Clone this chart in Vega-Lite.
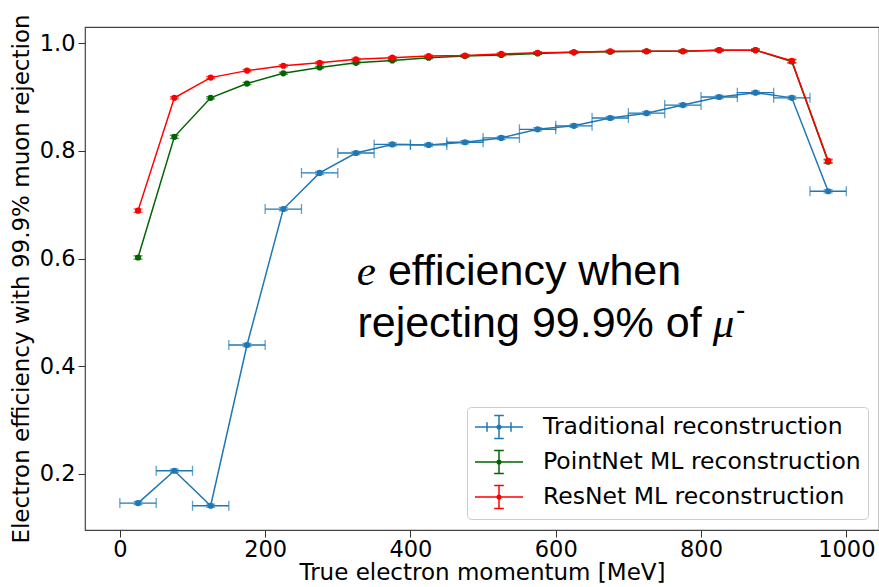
{
  "$schema": "https://vega.github.io/schema/vega-lite/v6.json",
  "autosize": "none",
  "width": 794,
  "height": 503,
  "padding": {"left": 85, "top": 27, "right": 0, "bottom": 57},
  "background": "white",
  "config": {
    "font": "DejaVu Sans",
    "view": {"stroke": "#444444", "strokeWidth": 1.2},
    "axis": {
      "domain": false,
      "grid": false,
      "labelFont": "DejaVu Sans",
      "labelFontSize": 22.5,
      "labelColor": "#000000",
      "tickColor": "#333333",
      "tickSize": 7,
      "tickWidth": 1,
      "labelPadding": 3,
      "titleFont": "DejaVu Sans",
      "titleFontSize": 23,
      "titleFontWeight": "normal",
      "titleColor": "#000000"
    },
    "legend": {
      "title": null,
      "orient": "bottom-right",
      "offset": 11,
      "padding": 7,
      "strokeColor": "#cccccc",
      "fillColor": "rgba(255,255,255,0.85)",
      "cornerRadius": 4,
      "labelFont": "DejaVu Sans",
      "labelFontSize": 23.5,
      "labelColor": "#000000",
      "labelLimit": 500,
      "symbolSize": 576,
      "symbolStrokeWidth": 1.5,
      "symbolOpacity": 1,
      "labelOffset": 43,
      "rowPadding": 5
    }
  },
  "resolve": {"scale": {"color": "independent", "shape": "independent"}, "legend": {"color": "independent", "shape": "independent"}},
  "datasets": {
    "pts": [
      {"series": "Traditional reconstruction", "x": 25, "y": 0.146, "xlo": 0, "xhi": 50, "ylo": 0.143, "yhi": 0.149},
      {"series": "Traditional reconstruction", "x": 75, "y": 0.206, "xlo": 50, "xhi": 100, "ylo": 0.203, "yhi": 0.209},
      {"series": "Traditional reconstruction", "x": 125, "y": 0.141, "xlo": 100, "xhi": 150, "ylo": 0.138, "yhi": 0.144},
      {"series": "Traditional reconstruction", "x": 175, "y": 0.4395, "xlo": 150, "xhi": 200, "ylo": 0.4365, "yhi": 0.4425},
      {"series": "Traditional reconstruction", "x": 225, "y": 0.692, "xlo": 200, "xhi": 250, "ylo": 0.689, "yhi": 0.695},
      {"series": "Traditional reconstruction", "x": 275, "y": 0.759, "xlo": 250, "xhi": 300, "ylo": 0.756, "yhi": 0.762},
      {"series": "Traditional reconstruction", "x": 325, "y": 0.796, "xlo": 300, "xhi": 350, "ylo": 0.793, "yhi": 0.799},
      {"series": "Traditional reconstruction", "x": 375, "y": 0.812, "xlo": 350, "xhi": 400, "ylo": 0.809, "yhi": 0.815},
      {"series": "Traditional reconstruction", "x": 425, "y": 0.811, "xlo": 400, "xhi": 450, "ylo": 0.808, "yhi": 0.814},
      {"series": "Traditional reconstruction", "x": 475, "y": 0.816, "xlo": 450, "xhi": 500, "ylo": 0.813, "yhi": 0.819},
      {"series": "Traditional reconstruction", "x": 525, "y": 0.824, "xlo": 500, "xhi": 550, "ylo": 0.821, "yhi": 0.827},
      {"series": "Traditional reconstruction", "x": 575, "y": 0.840, "xlo": 550, "xhi": 600, "ylo": 0.837, "yhi": 0.843},
      {"series": "Traditional reconstruction", "x": 625, "y": 0.8465, "xlo": 600, "xhi": 650, "ylo": 0.8435, "yhi": 0.8495},
      {"series": "Traditional reconstruction", "x": 675, "y": 0.861, "xlo": 650, "xhi": 700, "ylo": 0.858, "yhi": 0.864},
      {"series": "Traditional reconstruction", "x": 725, "y": 0.870, "xlo": 700, "xhi": 750, "ylo": 0.867, "yhi": 0.873},
      {"series": "Traditional reconstruction", "x": 775, "y": 0.885, "xlo": 750, "xhi": 800, "ylo": 0.882, "yhi": 0.888},
      {"series": "Traditional reconstruction", "x": 825, "y": 0.900, "xlo": 800, "xhi": 850, "ylo": 0.897, "yhi": 0.903},
      {"series": "Traditional reconstruction", "x": 875, "y": 0.908, "xlo": 850, "xhi": 900, "ylo": 0.905, "yhi": 0.911},
      {"series": "Traditional reconstruction", "x": 925, "y": 0.8985, "xlo": 900, "xhi": 950, "ylo": 0.8955, "yhi": 0.9015},
      {"series": "Traditional reconstruction", "x": 975, "y": 0.725, "xlo": 950, "xhi": 1000, "ylo": 0.722, "yhi": 0.728},
      {"series": "PointNet ML reconstruction", "x": 25, "y": 0.602, "ylo": 0.599, "yhi": 0.605},
      {"series": "PointNet ML reconstruction", "x": 75, "y": 0.826, "ylo": 0.823, "yhi": 0.829},
      {"series": "PointNet ML reconstruction", "x": 125, "y": 0.8985, "ylo": 0.8965, "yhi": 0.9005},
      {"series": "PointNet ML reconstruction", "x": 175, "y": 0.925, "ylo": 0.923, "yhi": 0.927},
      {"series": "PointNet ML reconstruction", "x": 225, "y": 0.944, "ylo": 0.942, "yhi": 0.946},
      {"series": "PointNet ML reconstruction", "x": 275, "y": 0.955, "ylo": 0.953, "yhi": 0.957},
      {"series": "PointNet ML reconstruction", "x": 325, "y": 0.9635, "ylo": 0.9615, "yhi": 0.9655},
      {"series": "PointNet ML reconstruction", "x": 375, "y": 0.968, "ylo": 0.966, "yhi": 0.970},
      {"series": "PointNet ML reconstruction", "x": 425, "y": 0.973, "ylo": 0.971, "yhi": 0.975},
      {"series": "PointNet ML reconstruction", "x": 475, "y": 0.976, "ylo": 0.974, "yhi": 0.978},
      {"series": "PointNet ML reconstruction", "x": 525, "y": 0.978, "ylo": 0.976, "yhi": 0.980},
      {"series": "PointNet ML reconstruction", "x": 575, "y": 0.981, "ylo": 0.979, "yhi": 0.983},
      {"series": "PointNet ML reconstruction", "x": 625, "y": 0.983, "ylo": 0.981, "yhi": 0.985},
      {"series": "PointNet ML reconstruction", "x": 675, "y": 0.984, "ylo": 0.982, "yhi": 0.986},
      {"series": "PointNet ML reconstruction", "x": 725, "y": 0.985, "ylo": 0.983, "yhi": 0.987},
      {"series": "PointNet ML reconstruction", "x": 775, "y": 0.985, "ylo": 0.983, "yhi": 0.987},
      {"series": "PointNet ML reconstruction", "x": 825, "y": 0.987, "ylo": 0.985, "yhi": 0.989},
      {"series": "PointNet ML reconstruction", "x": 875, "y": 0.987, "ylo": 0.985, "yhi": 0.989},
      {"series": "PointNet ML reconstruction", "x": 925, "y": 0.966, "ylo": 0.963, "yhi": 0.969},
      {"series": "PointNet ML reconstruction", "x": 975, "y": 0.780, "ylo": 0.777, "yhi": 0.783},
      {"series": "ResNet ML reconstruction", "x": 25, "y": 0.689, "ylo": 0.686, "yhi": 0.692},
      {"series": "ResNet ML reconstruction", "x": 75, "y": 0.8985, "ylo": 0.8965, "yhi": 0.9005},
      {"series": "ResNet ML reconstruction", "x": 125, "y": 0.936, "ylo": 0.934, "yhi": 0.938},
      {"series": "ResNet ML reconstruction", "x": 175, "y": 0.949, "ylo": 0.947, "yhi": 0.951},
      {"series": "ResNet ML reconstruction", "x": 225, "y": 0.958, "ylo": 0.956, "yhi": 0.960},
      {"series": "ResNet ML reconstruction", "x": 275, "y": 0.9635, "ylo": 0.9615, "yhi": 0.9655},
      {"series": "ResNet ML reconstruction", "x": 325, "y": 0.970, "ylo": 0.968, "yhi": 0.972},
      {"series": "ResNet ML reconstruction", "x": 375, "y": 0.973, "ylo": 0.971, "yhi": 0.975},
      {"series": "ResNet ML reconstruction", "x": 425, "y": 0.976, "ylo": 0.974, "yhi": 0.978},
      {"series": "ResNet ML reconstruction", "x": 475, "y": 0.977, "ylo": 0.975, "yhi": 0.979},
      {"series": "ResNet ML reconstruction", "x": 525, "y": 0.980, "ylo": 0.978, "yhi": 0.982},
      {"series": "ResNet ML reconstruction", "x": 575, "y": 0.982, "ylo": 0.980, "yhi": 0.984},
      {"series": "ResNet ML reconstruction", "x": 625, "y": 0.983, "ylo": 0.981, "yhi": 0.985},
      {"series": "ResNet ML reconstruction", "x": 675, "y": 0.985, "ylo": 0.983, "yhi": 0.987},
      {"series": "ResNet ML reconstruction", "x": 725, "y": 0.985, "ylo": 0.983, "yhi": 0.987},
      {"series": "ResNet ML reconstruction", "x": 775, "y": 0.985, "ylo": 0.983, "yhi": 0.987},
      {"series": "ResNet ML reconstruction", "x": 825, "y": 0.987, "ylo": 0.985, "yhi": 0.989},
      {"series": "ResNet ML reconstruction", "x": 875, "y": 0.987, "ylo": 0.985, "yhi": 0.989},
      {"series": "ResNet ML reconstruction", "x": 925, "y": 0.967, "ylo": 0.964, "yhi": 0.970},
      {"series": "ResNet ML reconstruction", "x": 975, "y": 0.7815, "ylo": 0.7785, "yhi": 0.7845}
    ],
    "notes": [
      {"t": "e", "x": 326, "y": 0.551, "kind": "math", "size": 43},
      {"t": "efficiency when", "x": 369, "y": 0.551, "kind": "sans", "size": 43},
      {"t": "rejecting 99.9% of", "x": 327, "y": 0.455, "kind": "sans", "size": 43},
      {"t": "μ", "x": 816, "y": 0.455, "kind": "math", "size": 43},
      {"t": "-", "x": 848, "y": 0.488, "kind": "sans", "size": 28}
    ]
  },
  "data": {"name": "pts"},
  "encoding": {
    "x": {
      "field": "x", "type": "quantitative",
      "scale": {"domain": [-48, 1045], "nice": false, "zero": false},
      "axis": {"values": [0, 200, 400, 600, 800, 1000], "format": "d", "title": "True electron momentum [MeV]", "labelPadding": 1, "titlePadding": 1}
    },
    "y": {
      "field": "y", "type": "quantitative",
      "scale": {"domain": [0.096, 1.03], "nice": false, "zero": false},
      "axis": {"values": [0.2, 0.4, 0.6, 0.8, 1.0], "format": ".1f", "title": "Electron efficiency with 99.9% muon rejection", "titlePadding": 6}
    },
    "color": {
      "field": "series", "type": "nominal",
      "scale": {
        "domain": ["Traditional reconstruction", "PointNet ML reconstruction", "ResNet ML reconstruction"],
        "range": ["#1f77b4", "#006400", "#ff0000"]
      },
      "legend": null
    }
  },
  "layer": [
    {
      "transform": [{"filter": "isValid(datum.xlo)"}],
      "mark": {"type": "rule", "strokeWidth": 1.3},
      "encoding": {"x": {"field": "xlo", "type": "quantitative"}, "x2": {"field": "xhi"}}
    },
    {
      "transform": [{"filter": "isValid(datum.xlo)"}],
      "mark": {"type": "tick", "orient": "vertical", "size": 10, "thickness": 1.3},
      "encoding": {"x": {"field": "xlo", "type": "quantitative"}}
    },
    {
      "transform": [{"filter": "isValid(datum.xhi)"}],
      "mark": {"type": "tick", "orient": "vertical", "size": 10, "thickness": 1.3},
      "encoding": {"x": {"field": "xhi", "type": "quantitative"}}
    },
    {
      "mark": {"type": "rule", "strokeWidth": 1.3},
      "encoding": {"y": {"field": "ylo", "type": "quantitative"}, "y2": {"field": "yhi"}}
    },
    {
      "mark": {"type": "tick", "orient": "horizontal", "size": 9, "thickness": 1.3},
      "encoding": {"y": {"field": "ylo", "type": "quantitative"}}
    },
    {
      "mark": {"type": "tick", "orient": "horizontal", "size": 9, "thickness": 1.3},
      "encoding": {"y": {"field": "yhi", "type": "quantitative"}}
    },
    {
      "mark": {"type": "line", "strokeWidth": 1.5},
      "encoding": {"order": {"field": "x", "type": "quantitative"}}
    },
    {
      "mark": {"type": "point", "filled": true, "size": 38, "opacity": 1},
      "encoding": {}
    },
    {
      "mark": {"type": "point", "filled": false, "opacity": 0, "strokeWidth": 1.5},
      "encoding": {
        "color": {
          "field": "series", "type": "nominal",
          "scale": {
            "domain": ["Traditional reconstruction", "PointNet ML reconstruction", "ResNet ML reconstruction"],
            "range": ["#1f77b4", "#006400", "#ff0000"]
          },
          "legend": {}
        },
        "shape": {
          "field": "series", "type": "nominal",
          "scale": {
            "domain": ["Traditional reconstruction", "PointNet ML reconstruction", "ResNet ML reconstruction"],
            "range": [
              "M-1,0L3,0M1,-0.95L1,0.95M0.6,-0.95L1.4,-0.95M0.6,0.95L1.4,0.95M0,-0.4L0,0.4M2,-0.4L2,0.4M1.15,0A0.15,0.15 0 1 1 0.85,0A0.15,0.15 0 1 1 1.15,0",
              "M-1,0L3,0M1,-0.95L1,0.95M0.6,-0.95L1.4,-0.95M0.6,0.95L1.4,0.95M1.15,0A0.15,0.15 0 1 1 0.85,0A0.15,0.15 0 1 1 1.15,0",
              "M-1,0L3,0M1,-0.95L1,0.95M0.6,-0.95L1.4,-0.95M0.6,0.95L1.4,0.95M1.15,0A0.15,0.15 0 1 1 0.85,0A0.15,0.15 0 1 1 1.15,0"
            ]
          },
          "legend": {}
        }
      }
    },
    {
      "data": {"name": "notes"},
      "transform": [{"filter": "datum.kind == 'sans'"}],
      "mark": {"type": "text", "font": "Liberation Sans", "align": "left", "baseline": "alphabetic", "color": "#000000"},
      "encoding": {
        "x": {"field": "x", "type": "quantitative"},
        "y": {"field": "y", "type": "quantitative"},
        "text": {"field": "t"},
        "size": {"field": "size", "type": "quantitative", "scale": null},
        "color": {"value": "#000000"}
      }
    },
    {
      "data": {"name": "notes"},
      "transform": [{"filter": "datum.kind == 'math'"}],
      "mark": {"type": "text", "font": "Liberation Serif", "fontStyle": "italic", "align": "left", "baseline": "alphabetic", "color": "#000000"},
      "encoding": {
        "x": {"field": "x", "type": "quantitative"},
        "y": {"field": "y", "type": "quantitative"},
        "text": {"field": "t"},
        "size": {"field": "size", "type": "quantitative", "scale": null},
        "color": {"value": "#000000"}
      }
    }
  ]
}
